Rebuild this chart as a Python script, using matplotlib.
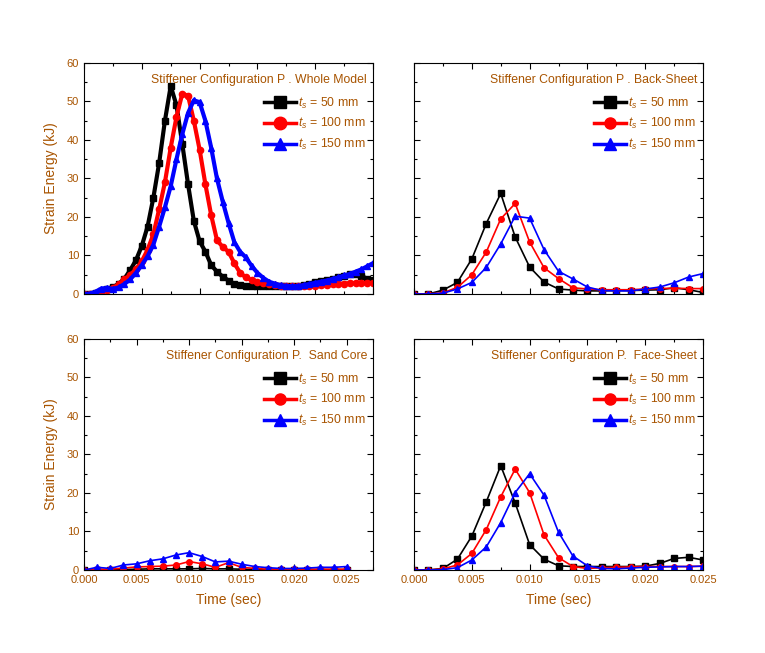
import matplotlib
matplotlib.use('Agg')
import matplotlib.pyplot as plt
import numpy as np
from matplotlib.ticker import MultipleLocator

plt.rcParams['font.family'] = ['Liberation Sans', 'DejaVu Sans']
plt.rcParams['mathtext.fontset'] = 'custom'
plt.rcParams['mathtext.it'] = 'Liberation Sans:italic'
plt.rcParams['mathtext.rm'] = 'Liberation Sans'

txt_color = '#a85400'

# whole model, sampled every 0.0005 s
t_whole = np.arange(51) * 0.0005
whole_50 = [0, 0.1, 0.3, 0.8, 1.3, 1.8, 2.6, 4.0, 6.2, 8.8, 12.5, 17.5, 25, 34, 45, 54,
            49, 39, 28.5, 19, 13.7, 11, 7.5, 5.8, 4.5, 3.5, 2.6, 2.3, 2.1, 2.0, 2.0,
            2.0, 2.0, 2.0, 2.0, 2.0, 2.0, 2.1, 2.3, 2.7, 3.1, 3.4, 3.7, 4.0, 4.3, 4.7,
            5.1, 5.3, 4.6, 4.0, 3.7]
whole_100 = [0, 0, 0.1, 0.5, 1.0, 1.6, 2.5, 3.8, 5.0, 6.4, 8.5, 11.5, 15.5, 22, 29, 38,
             46, 52, 51.5, 45, 37.5, 28.5, 20.5, 14, 12.2, 11, 8, 5.5, 4.3, 3.6, 3.1,
             2.8, 2.6, 2.4, 2.2, 2.1, 2.0, 2.0, 2.0, 2.1, 2.2, 2.3, 2.4, 2.5, 2.6, 2.7,
             2.8, 2.9, 2.9, 2.9, 2.9]
whole_150 = [0, 0.1, 0.6, 1.4, 1.6, 1.3, 1.7, 2.6, 3.8, 5.5, 7.5, 9.8, 12.8, 17.5, 22.5,
             28, 35, 41.5, 47, 50.3, 49.8, 45, 38, 30, 24, 18.5, 13.5, 11, 9.5, 7.3, 5.5,
             4.2, 3.2, 2.7, 2.3, 2.1, 2.0, 2.1, 2.3, 2.6, 2.9, 3.2, 3.5, 3.9, 4.3, 4.8,
             5.2, 5.8, 6.4, 7.2, 8.0]

# component results, sampled every 0.00125 s
t_comp = np.arange(21) * 0.00125
back_50 = [0, 0, 1.0, 3.0, 9.1, 18.3, 26.1, 14.8, 7.0, 3.1, 1.3, 1.0, 0.8, 0.8, 0.9,
           0.9, 1.0, 1.1, 1.6, 1.1, 0.4]
back_100 = [0, 0, 0.3, 1.7, 5.0, 10.9, 19.5, 23.5, 13.5, 6.8, 4.0, 1.6, 1.3, 1.1, 1.1,
            1.1, 1.3, 1.4, 1.5, 1.4, 1.4]
back_150 = [0, 0, 0.2, 1.3, 3.0, 6.9, 13.0, 20.2, 19.7, 11.5, 5.9, 3.9, 1.8, 0.9, 0.8,
            0.8, 1.3, 1.8, 2.9, 4.4, 5.3]

sand_50 = [0, 0, 0.1, 0.1, 0.2, 0.3, 0.3, 0.3, 0.3, 0.4, 0.3, 0.3, 0.2, 0.1, 0.1,
           0.1, 0.1, 0.1, 0.1, 0.1, 0.1]
sand_100 = [0, 0.2, 0.2, 0.5, 0.8, 0.9, 1.0, 1.3, 2.2, 1.6, 0.7, 1.9, 0.7, 0.4, 0.2,
            0.2, 0.2, 0.2, 0.2, 0.2, 0.2]
sand_150 = [0, 0.7, 0.4, 1.3, 1.6, 2.4, 2.9, 3.9, 4.5, 3.5, 2.1, 2.3, 1.5, 0.9, 0.6,
            0.4, 0.4, 0.5, 0.7, 0.7, 0.9]

face_50 = [0, 0, 0.4, 2.8, 8.8, 17.7, 27.1, 17.4, 6.6, 2.8, 1.1, 0.9, 0.9, 0.9, 0.9,
           0.9, 1.0, 1.7, 3.0, 3.3, 2.6]
face_100 = [0, 0, 0.3, 1.3, 4.3, 10.5, 19.0, 26.2, 20.1, 9.1, 3.2, 0.9, 0.4, 0.6, 0.7,
            0.8, 0.9, 0.9, 0.9, 0.9, 1.0]
face_150 = [0, 0, 0.1, 0.6, 2.6, 6.0, 12.3, 20.1, 25.0, 19.4, 9.8, 3.6, 1.1, 0.4, 0.3,
            0.5, 0.7, 0.8, 0.9, 0.9, 1.0]

labels = ['$t_s$ = 50 mm', '$t_s$ = 100 mm', '$t_s$ = 150 mm']
colors = ['black', 'red', 'blue']
markers = ['s', 'o', '^']

fig = plt.figure(figsize=(7.65, 6.53), dpi=100)

panels = [
    ([0.1098, 0.5498, 0.3778, 0.3538], t_whole, [whole_50, whole_100, whole_150],
     'Stiffener Configuration P . Whole Model', 0.025, True, False),
    ([0.5412, 0.5498, 0.3778, 0.3538], t_comp, [back_50, back_100, back_150],
     'Stiffener Configuration P . Back-Sheet', 0.025, False, False),
    ([0.1098, 0.1271, 0.3778, 0.3538], t_comp, [sand_50, sand_100, sand_150],
     'Stiffener Configuration P.  Sand Core', 0.0275, True, True),
    ([0.5412, 0.1271, 0.3778, 0.3538], t_comp, [face_50, face_100, face_150],
     'Stiffener Configuration P.  Face-Sheet', 0.025, False, True),
]

for i, (pos, t, series, title, xmax, show_y, show_x) in enumerate(panels):
    ax = fig.add_axes(pos)
    for y, c, m, lab in zip(series, colors, markers, labels):
        if i == 0:
            ax.plot(t, y, color=c, marker=m, ms=4.5, lw=3, label=lab)
        else:
            ax.plot(t, y, color=c, marker=m, ms=4, lw=1.2, label=lab)
    ax.set_xlim(0, xmax)
    ax.set_ylim(0, 60)
    ax.xaxis.set_major_locator(MultipleLocator(0.005))
    ax.xaxis.set_minor_locator(MultipleLocator(0.0025))
    ax.yaxis.set_major_locator(MultipleLocator(10))
    ax.yaxis.set_minor_locator(MultipleLocator(5))
    ax.tick_params(which='both', direction='in', top=True, right=True,
                   labelsize=8, labelcolor=txt_color, width=0.8)
    ax.tick_params(which='major', length=4)
    ax.tick_params(which='minor', length=2.5)
    ax.xaxis.set_major_formatter(plt.FuncFormatter(lambda v, p: '%.3f' % v))
    if not show_y:
        ax.set_yticklabels([])
    else:
        ax.set_ylabel('Strain Energy (kJ)', color=txt_color, fontsize=10, labelpad=6)
    if not show_x:
        ax.set_xticklabels([])
    else:
        ax.set_xlabel('Time (sec)', color=txt_color, fontsize=10, labelpad=6)
    ax.text(0.98, 0.925, title, transform=ax.transAxes, ha='right', va='center',
            fontsize=8.8, color=txt_color)
    leg = ax.legend(loc='upper right', bbox_to_anchor=(1.0, 0.89), frameon=False,
                    fontsize=8.8, handlelength=2.6, handletextpad=0.2,
                    labelspacing=0.45, markerscale=2.0, borderaxespad=0.2)
    for h in leg.legend_handles:
        h.set_linewidth(2.5)
    for tx in leg.get_texts():
        tx.set_color(txt_color)

fig.savefig('out.png', dpi=100)
